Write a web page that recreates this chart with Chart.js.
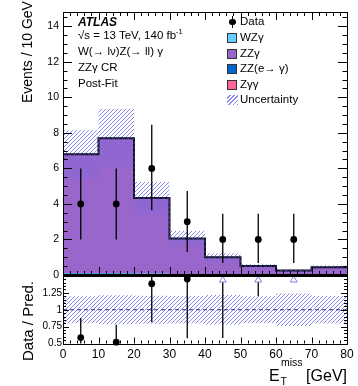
<!DOCTYPE html>
<html>
<head>
<meta charset="utf-8">
<script src="https://cdn.jsdelivr.net/npm/chart.js@4/dist/chart.umd.min.js"></script>
<style>
  body { margin: 0; background: #fff; width: 358px; height: 386px; position: relative; overflow: hidden;
         font-family: "Liberation Sans", Arial, sans-serif; color: #000; }
  canvas { position: absolute; left: 0; }
  #main { top: 0; }
  #ratio { top: 266px; }
  .t { position: absolute; white-space: nowrap; line-height: 1; }
  .rot { transform-origin: 0 0; transform: rotate(-90deg); width: 200px; }
  .box { position: absolute; width: 10px; height: 10px; border: 1px solid #333; box-sizing: border-box; left: 227px; }
  .lab { position: absolute; left: 240px; font-size: 11.5px; line-height: 1; white-space: nowrap; }
</style>
</head>
<body>
<canvas id="main" width="358" height="288"></canvas>
<canvas id="ratio" width="358" height="120"></canvas>

<!-- textes -->
<div class="t" style="left:78px; top:15.5px; font-size:12px; font-weight:bold; font-style:italic;">ATLAS</div>
<div class="t" style="left:78px; top:30px; font-size:11.5px;">√s = 13 TeV, 140 fb<span style="font-size:7.5px; position:relative; top:-5px;">-1</span></div>
<div class="t" style="left:78px; top:45.5px; font-size:11.5px;">W(→ lν)Z(→ ll) γ</div>
<div class="t" style="left:78px; top:62px; font-size:11.5px;">ZZγ CR</div>
<div class="t" style="left:78px; top:78px; font-size:11.5px;">Post-Fit</div>

<!-- légende -->
<div style="position:absolute; left:232px; top:16px; width:1.3px; height:12px; background:#000;"></div>
<div style="position:absolute; left:229.3px; top:18.7px; width:6.6px; height:6.6px; border-radius:50%; background:#000;"></div>
<div class="lab" style="top:16px;">Data</div>
<div class="box" style="top:33px; background:#66ccff;"></div>
<div class="lab" style="top:32px;">WZγ</div>
<div class="box" style="top:48.5px; background:#9966cc;"></div>
<div class="lab" style="top:47.5px;">ZZγ</div>
<div class="box" style="top:64px; background:#0066cc;"></div>
<div class="lab" style="top:63px;">ZZ(e→ γ)</div>
<div class="box" style="top:79.5px; background:#ff6699;"></div>
<div class="lab" style="top:78.5px;">Zγγ</div>
<div style="position:absolute; left:227px; top:95px; width:11px; height:10px;
     background:repeating-linear-gradient(-45deg, rgba(110,110,225,0.8) 0 1.2px, transparent 1.2px 3px);"></div>
<div class="lab" style="top:94px;">Uncertainty</div>

<!-- titres des axes -->
<div class="t rot" style="left:20px; top:103px; font-size:14px;">Events / 10 GeV</div>
<div class="t rot" style="left:20px; top:361px; font-size:15px;">Data / Pred.</div>
<div class="t" style="left:269px; top:367.5px; font-size:16px;">E</div>
<div class="t" style="left:281px; top:357px; font-size:10.5px;">miss</div>
<div class="t" style="left:280.5px; top:376px; font-size:10.5px;">T</div>
<div class="t" style="right:11px; top:367.5px; font-size:16px;">[GeV]</div>

<script>
// Données
const binEdges = [0, 10, 20, 30, 40, 50, 60, 70, 80];
const binCenters = [5, 15, 25, 35, 45, 55, 65, 75];
const zzGamma = [6.70, 7.60, 4.25, 2.01, 0.96, 0.47, 0.22, 0.41];
const wzGamma = [0.03, 0.03, 0.02, 0.02, 0.01, 0.01, 0.01, 0.01];
const zzEtoGamma = [0.04, 0.04, 0.03, 0.02, 0.02, 0.01, 0.01, 0.01];
const zGammaGamma = [0.03, 0.03, 0.03, 0.01, 0.01, 0.01, 0.01, 0.01];
const mcUnc = [1.35, 1.65, 0.90, 0.42, 0.22, 0.10, 0.06, 0.09];
const dataCounts = [4, 4, 6, 3, 2, 2, 2, 0];
const dataErrLo = [2.0, 2.0, 2.35, 1.70, 1.32, 1.32, 1.32, 0];
const dataErrHi = [2.0, 2.0, 2.45, 1.73, 1.44, 1.44, 1.44, 0];
const ratioErr = [0.29, 0.26, 0.57, 0.88, 1.42, 2.8, 5.6, 0];

const FONT = '"Liberation Sans", Arial, sans-serif';
const colors = { wz: '#66ccff', zz: '#9966cc', zze: '#0066cc', zgg: '#ff6699' };
const hatchColor = 'rgba(105,105,225,0.8)';
const mainMax = 14.8;
const ratioMin = 0.5, ratioMax = 1.5;
const arrowLevel = 1.44; // marqueur hors échelle

// Empilement
const layer1 = zGammaGamma.slice();
const layer2 = layer1.map((v, i) => v + zzEtoGamma[i]);
const layer3 = layer2.map((v, i) => v + wzGamma[i]);
const total = layer3.map((v, i) => v + zzGamma[i]);

function stepPts(vals) {
  return binEdges.map((x, i) => ({ x, y: vals[Math.min(i, vals.length - 1)] }));
}

function fillSet(vals, color, order) {
  return { type: 'line', data: stepPts(vals), stepped: true, fill: 'origin', backgroundColor: color,
           borderColor: 'transparent', borderWidth: 0, pointRadius: 0, order };
}

// Bande hachurée, dessinée par casier à partir des échelles
function hatchPlugin(hook, datasetIndex, lo, hi) {
  return {
    id: 'hatch',
    [hook](chart, args) {
      if (args.index !== datasetIndex) return;
      const { ctx, chartArea: a, scales: { x, y } } = chart;
      ctx.save();
      ctx.beginPath();
      ctx.rect(a.left, a.top, a.right - a.left, a.bottom - a.top);
      ctx.clip();
      ctx.beginPath();
      binCenters.forEach((c, i) => {
        const x0 = x.getPixelForValue(binEdges[i]);
        const x1 = x.getPixelForValue(binEdges[i + 1]);
        const y0 = y.getPixelForValue(hi[i]);
        const y1 = y.getPixelForValue(lo[i]);
        ctx.rect(x0, y0, x1 - x0, y1 - y0);
      });
      ctx.clip();
      ctx.strokeStyle = hatchColor;
      ctx.lineWidth = 1;
      ctx.beginPath();
      const h = a.bottom - a.top;
      for (let s = a.left - h; s < a.right; s += 4) {
        ctx.moveTo(s, a.bottom);
        ctx.lineTo(s + h, a.top);
      }
      ctx.stroke();
      ctx.restore();
    }
  };
}

function framePlugin(cfg) {
  return {
    id: 'frame',
    afterDraw(chart) {
      const { ctx, chartArea: a, scales: { x, y } } = chart;
      ctx.save();
      ctx.strokeStyle = '#000';
      ctx.lineWidth = 1;
      ctx.beginPath();
      const nx = Math.round((x.max - x.min) / cfg.xMinor);
      for (let i = 0; i <= nx; i++) {
        const v = x.min + i * cfg.xMinor;
        const px = Math.round(x.getPixelForValue(v)) + 0.5;
        const major = Math.abs(v / cfg.xMajor - Math.round(v / cfg.xMajor)) < 1e-6;
        const len = major ? cfg.xMajorLen : cfg.xMinorLen;
        if (cfg.xBottom) { ctx.moveTo(px, a.bottom); ctx.lineTo(px, a.bottom - len); }
        if (cfg.xTop) { ctx.moveTo(px, a.top); ctx.lineTo(px, a.top + len); }
      }
      const ny = Math.floor((y.max - y.min) / cfg.yMinor + 1e-6);
      for (let i = 0; i <= ny; i++) {
        const v = y.min + i * cfg.yMinor;
        const py = Math.round(y.getPixelForValue(v)) + 0.5;
        const major = Math.abs(v / cfg.yMajor - Math.round(v / cfg.yMajor)) < 1e-6;
        const len = major ? cfg.yMajorLen : cfg.yMinorLen;
        ctx.moveTo(a.left, py); ctx.lineTo(a.left + len, py);
        ctx.moveTo(a.right, py); ctx.lineTo(a.right - len, py);
      }
      ctx.stroke();
      ctx.strokeRect(Math.round(a.left) + 0.5, Math.round(a.top) + 0.5,
                     Math.round(a.right - a.left), Math.round(a.bottom - a.top));
      if (cfg.thickBottom) {
        ctx.lineWidth = 2.2;
        ctx.beginPath();
        ctx.moveTo(a.left, a.bottom); ctx.lineTo(a.right, a.bottom);
        ctx.stroke();
      }
      ctx.restore();
    }
  };
}

function errorBarPlugin(datasetIndex, bars) {
  return {
    id: 'errorBars',
    beforeDatasetDraw(chart, args) {
      if (args.index !== datasetIndex) return;
      const { ctx, chartArea: a, scales: { x, y } } = chart;
      ctx.save();
      ctx.beginPath();
      ctx.rect(a.left, a.top, a.right - a.left, a.bottom - a.top);
      ctx.clip();
      ctx.strokeStyle = '#000';
      ctx.lineWidth = 1.3;
      bars.forEach(b => {
        if (b.lo === b.hi) return;
        const px = x.getPixelForValue(b.x);
        ctx.beginPath();
        ctx.moveTo(px, y.getPixelForValue(b.lo));
        ctx.lineTo(px, y.getPixelForValue(b.hi));
        ctx.stroke();
      });
      ctx.restore();
    }
  };
}

// Panneau principal
const uncLo = total.map((v, i) => v - mcUnc[i]);
const uncHi = total.map((v, i) => v + mcUnc[i]);
const dataBars = binCenters.map((x, i) => ({ x, lo: dataCounts[i] - dataErrLo[i], hi: dataCounts[i] + dataErrHi[i] }));

new Chart(document.getElementById('main'), {
  type: 'line',
  data: {
    datasets: [
      fillSet(total, colors.zz, 10),
      fillSet(layer3, colors.wz, 9),
      fillSet(layer2, colors.zze, 8),
      fillSet(layer1, colors.zgg, 7),
      { data: stepPts(total), stepped: true, fill: false, borderColor: '#111', borderWidth: 2, pointRadius: 0, order: 3 },
      { data: stepPts(total), stepped: true, fill: false, borderColor: '#3535a8', borderWidth: 1,
        borderDash: [3, 2], pointRadius: 0, order: 2 },
      { data: binCenters.map((x, i) => ({ x, y: dataCounts[i] > 0 ? dataCounts[i] : null })),
        showLine: false, pointRadius: 3.4, pointBackgroundColor: '#000', pointBorderWidth: 0, order: 1, clip: false }
    ]
  },
  options: {
    responsive: false,
    animation: false,
    layout: { padding: { top: 12, right: 11, bottom: 13, left: 0 } },
    plugins: { legend: { display: false }, tooltip: { enabled: false } },
    scales: {
      x: { type: 'linear', min: 0, max: 80, display: false },
      y: {
        min: 0, max: mainMax,
        grid: { display: false, drawTicks: false }, border: { display: false },
        ticks: { stepSize: 2, includeBounds: false, padding: 4, color: '#000', font: { family: FONT, size: 10.5 } },
        afterFit(s) { s.width = 63; }
      }
    }
  },
  plugins: [
    hatchPlugin('afterDatasetDraw', 3, uncLo, uncHi),
    errorBarPlugin(6, dataBars),
    framePlugin({ xMinor: 2, xMajor: 10, xMajorLen: 8, xMinorLen: 4, xBottom: true, xTop: true,
                  yMinor: 0.5, yMajor: 2, yMajorLen: 9, yMinorLen: 4.5, thickBottom: true })
  ]
});

// Panneau du rapport
const ratioVals = dataCounts.map((d, i) => d > 0 ? d / total[i] : null);
const bandLo = total.map((v, i) => 1 - mcUnc[i] / v);
const bandHi = total.map((v, i) => 1 + mcUnc[i] / v);
const ratioBars = binCenters.map((x, i) => ({ x, lo: ratioVals[i] === null ? 0 : ratioVals[i] - ratioErr[i],
                                                hi: ratioVals[i] === null ? 0 : ratioVals[i] + ratioErr[i] }));

new Chart(document.getElementById('ratio'), {
  type: 'line',
  data: {
    datasets: [
      { data: [{ x: 0, y: 1 }, { x: 80, y: 1 }], fill: false, borderColor: '#2b2b8a', borderWidth: 1,
        borderDash: [4, 3], pointRadius: 0, order: 3 },
      { data: binCenters.map((x, i) => ({ x, y: ratioVals[i] !== null && ratioVals[i] <= ratioMax ? ratioVals[i] : null })),
        showLine: false, pointRadius: 3.4, pointBackgroundColor: '#000', pointBorderWidth: 0, order: 1, clip: false },
      { data: binCenters.map((x, i) => ({ x, y: ratioVals[i] !== null && ratioVals[i] > ratioMax ? arrowLevel : null })),
        showLine: false, pointStyle: 'triangle', pointRadius: 4, pointBackgroundColor: '#fff',
        pointBorderColor: '#7a86d6', pointBorderWidth: 1, order: 2, clip: false }
    ]
  },
  options: {
    responsive: false,
    animation: false,
    layout: { padding: { top: 10, right: 11, bottom: 0, left: 0 } },
    plugins: { legend: { display: false }, tooltip: { enabled: false } },
    scales: {
      x: {
        type: 'linear', min: 0, max: 80,
        grid: { display: false, drawTicks: false }, border: { display: false },
        ticks: { stepSize: 10, padding: 4, maxRotation: 0, color: '#000', font: { family: FONT, size: 12 } },
        afterFit(s) { s.height = 42.5; }
      },
      y: {
        min: ratioMin, max: ratioMax,
        grid: { display: false, drawTicks: false }, border: { display: false },
        ticks: { stepSize: 0.25, includeBounds: false, padding: 1, color: '#000', font: { family: FONT, size: 10 },
                 callback: v => v > 1.3 ? '' : String(v) },
        afterFit(s) { s.width = 63; }
      }
    }
  },
  plugins: [
    hatchPlugin('beforeDatasetDraw', 0, bandLo, bandHi),
    errorBarPlugin(2, ratioBars),
    framePlugin({ xMinor: 2, xMajor: 10, xMajorLen: 6, xMinorLen: 3, xBottom: true, xTop: false,
                  yMinor: 0.05, yMajor: 0.25, yMajorLen: 6, yMinorLen: 3, thickBottom: false })
  ]
});
</script>
</body>
</html>
